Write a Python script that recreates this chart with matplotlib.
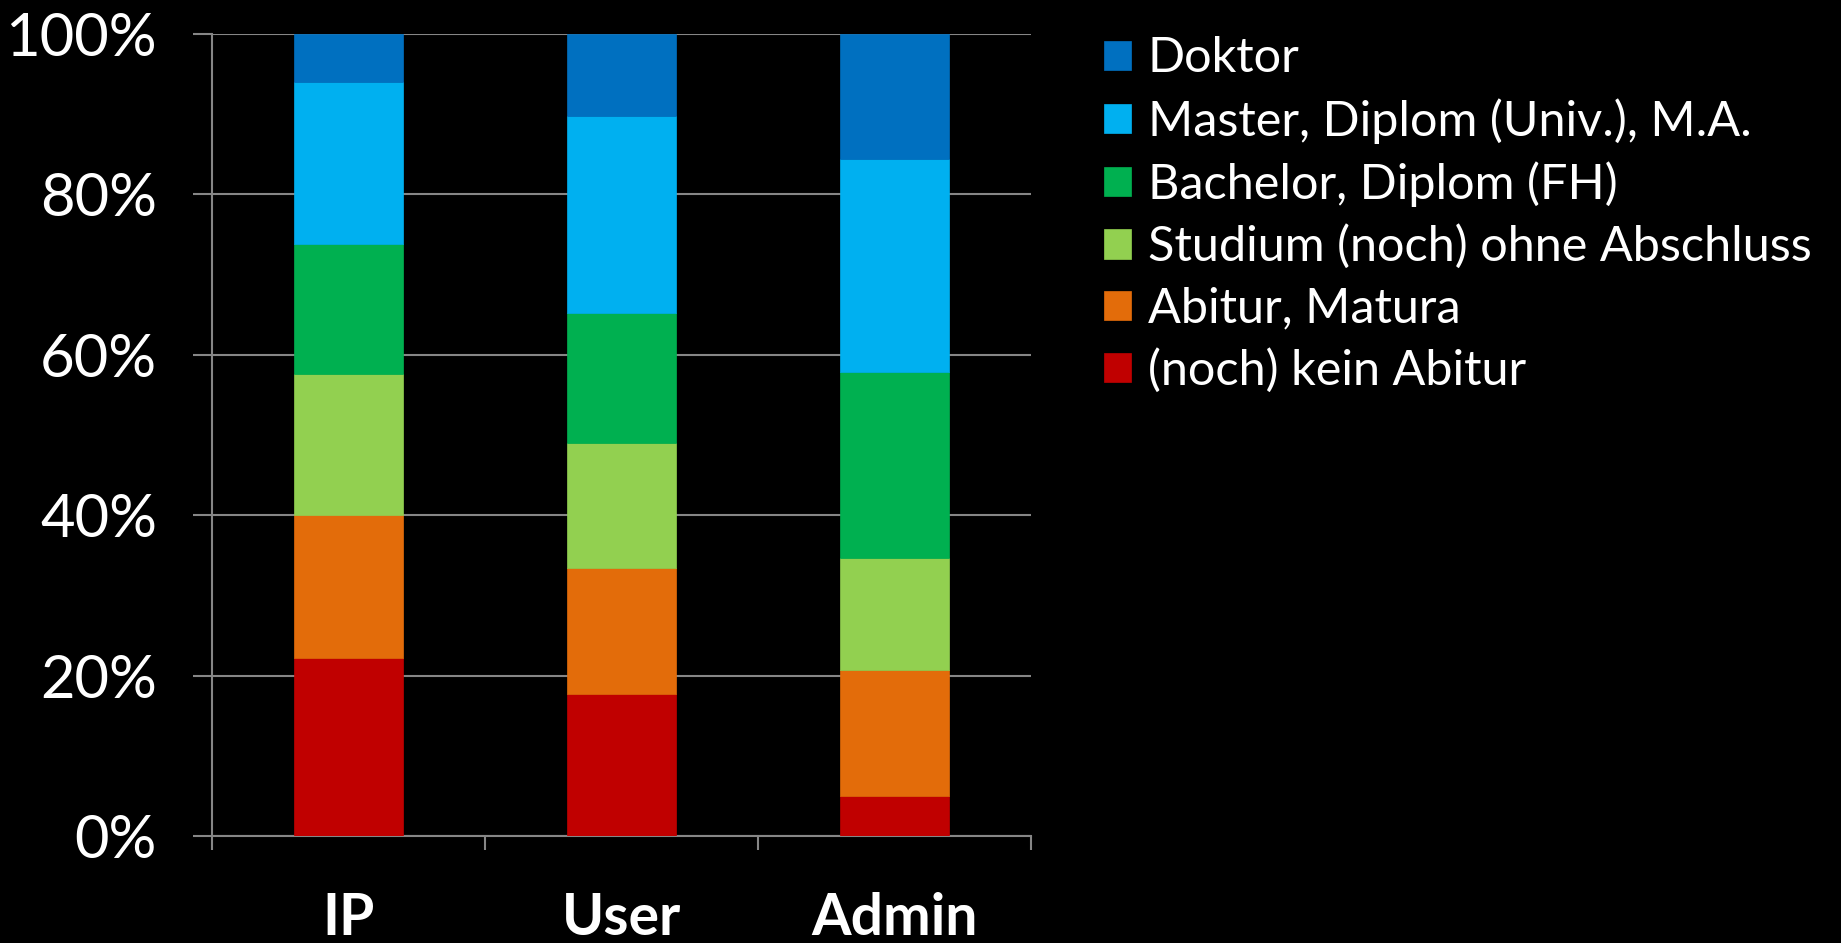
import matplotlib.pyplot as plt
import numpy as np

# Bildungsabschluss je Gruppe (Anteile in %)
gruppen = ['IP', 'User', 'Admin']
abschluesse = ['(noch) kein Abitur', 'Abitur, Matura', 'Studium (noch) ohne Abschluss',
               'Bachelor, Diplom (FH)', 'Master, Diplom (Univ.), M.A.', 'Doktor']
kein_abitur = [22.2, 17.7, 5.0]
abitur = [17.8, 15.7, 15.7]
studium = [17.6, 15.6, 14.0]
bachelor = [16.2, 16.2, 23.1]
master = [20.2, 24.6, 26.6]
doktor = [6.0, 10.2, 15.6]
farben = ['#C00000', '#E36C0A', '#92D050', '#00B050', '#00B0F0', '#0070C0']

werte = [kein_abitur, abitur, studium, bachelor, master, doktor]

plt.rcParams['font.family'] = ['Lato', 'DejaVu Sans']

fig = plt.figure(figsize=(18.41, 9.43), dpi=100, facecolor='black')
ax = fig.add_axes([0.1154, 0.1135, 0.4446, 0.8505], facecolor='black')

x = np.arange(len(gruppen))
unten = np.zeros(len(gruppen))
balken = []
for w, name, c in zip(werte, abschluesse, farben):
    b = ax.bar(x, w, 0.4, bottom=unten, color=c, label=name, zorder=3,
               edgecolor=c, linewidth=0.5)
    balken.append(b)
    unten += np.array(w)

grau = '#868686'
ax.set_xlim(-0.5, 2.5)
ax.set_ylim(0, 100)
ax.set_yticks([0, 20, 40, 60, 80, 100])
ax.set_yticklabels(['0%', '20%', '40%', '60%', '80%', '100%'])
ax.yaxis.grid(True, color=grau, linewidth=1.5, zorder=0)
ax.tick_params(axis='y', colors=grau, labelcolor='white', labelsize=43,
               length=14, width=1.5, pad=26)

ax.set_xticks(x)
ax.set_xticklabels(gruppen, fontsize=41, fontweight='bold', color='white')
ax.set_xticks([-0.5, 0.5, 1.5, 2.5], minor=True)
ax.tick_params(axis='x', which='major', length=0, pad=40)
ax.tick_params(axis='x', which='minor', length=10, width=1.5, colors=grau)

for s in ['top', 'right']:
    ax.spines[s].set_visible(False)
ax.spines['left'].set_color(grau)
ax.spines['bottom'].set_color(grau)
ax.spines['left'].set_linewidth(1.5)
ax.spines['bottom'].set_linewidth(1.5)

leg = fig.legend(balken[::-1], abschluesse[::-1], loc='upper left',
                 bbox_to_anchor=(0.589, 0.982), frameon=False, fontsize=35,
                 handlelength=0.55, handleheight=0.55, handletextpad=0.35,
                 labelspacing=0.36, borderaxespad=0)
for t in leg.get_texts():
    t.set_color('white')

plt.savefig('out.png', dpi=100, facecolor='black')
